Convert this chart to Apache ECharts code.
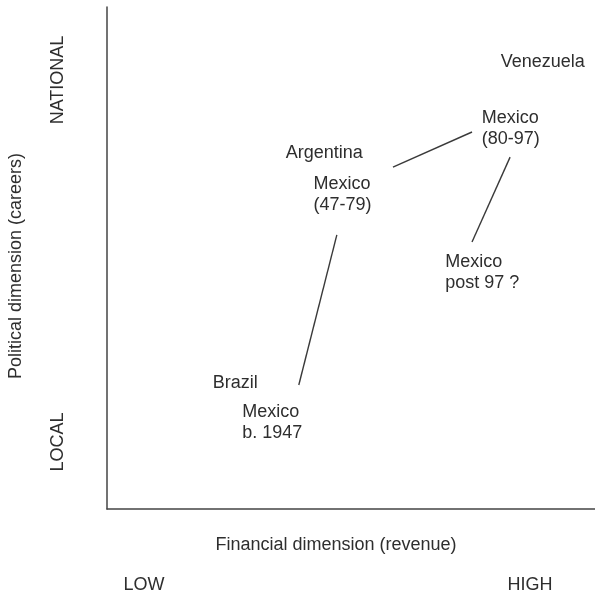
<!DOCTYPE html>
<html>
<head>
    <meta charset="utf-8">
    <title>Political and financial dimension</title>
    <script src="https://cdn.jsdelivr.net/npm/echarts@6/dist/echarts.min.js"></script>
    <style>
        html, body {margin: 0; padding: 0; background: #fff;}
        #chart {width: 595px; height: 596px;}
    </style>
</head>
<body>
<div id="chart"></div>
<script>
    // cases placed on the two dimensions (0 = low/local, 100 = high/national)
    var caseNames = ['Venezuela', 'Mexico\n(80-97)', 'Argentina', 'Mexico\n(47-79)', 'Mexico\npost 97 ?', 'Brazil', 'Mexico\nb. 1947'];
    var caseX = [89.3, 76.8, 44.5, 42.3, 69.3, 26.3, 27.7];
    var caseY = [89.0, 75.7, 70.9, 62.7, 47.1, 25.1, 17.2];
    var caseAlign = ['center', 'left', 'center', 'left', 'left', 'center', 'left'];

    // connector segments between the Mexico periods
    var segments = [
        [[58.6, 68.1], [74.8, 75.1]],
        [[82.6, 70.1], [74.8, 53.2]],
        [[47.1, 54.6], [39.3, 24.7]]
    ];

    var xAxisTitle = 'Financial dimension (revenue)';
    var yAxisTitle = 'Political dimension (careers)';
    var xEnds = ['LOW', 'HIGH'];
    var yEnds = ['LOCAL', 'NATIONAL'];

    var font = '"Liberation Sans", Arial, sans-serif';
    var ink = '#2e2e2e';

    var chart = echarts.init(document.getElementById('chart'));

    var series = [];
    segments.forEach(function (seg) {
        series.push({
            type: 'line',
            data: seg,
            symbol: 'none',
            silent: true,
            lineStyle: {color: '#3a3a3a', width: 1.4}
        });
    });
    series.push({
        type: 'scatter',
        symbolSize: 0,
        silent: true,
        itemStyle: {opacity: 1},
        data: caseNames.map(function (n, i) {
            return {
                value: [caseX[i], caseY[i]],
                label: {align: caseAlign[i]}
            };
        }),
        label: {
            show: true,
            position: 'inside',
            formatter: function (p) {
                return caseNames[p.dataIndex];
            },
            color: ink,
            opacity: 1,
            fontFamily: font,
            fontSize: 18,
            lineHeight: 21
        }
    });

    function axisText(txt, x, y, rot) {
        return {
            type: 'text', x: x, y: y, rotation: rot || 0,
            style: {text: txt, fill: ink, font: '18px ' + font, textAlign: 'center', textVerticalAlign: 'middle'}
        };
    }

    var option = {
        animation: false,
        grid: {left: 107, top: 7, right: 0, bottom: 87},
        xAxis: {
            type: 'value', min: 0, max: 100,
            axisLine: {show: true, onZero: false, lineStyle: {color: '#444', width: 1.5}},
            axisTick: {show: false}, axisLabel: {show: false}, splitLine: {show: false}
        },
        yAxis: {
            type: 'value', min: 0, max: 100,
            axisLine: {show: true, onZero: false, lineStyle: {color: '#444', width: 1.5}},
            axisTick: {show: false}, axisLabel: {show: false}, splitLine: {show: false}
        },
        graphic: [
            axisText(xAxisTitle, 336, 545),
            axisText(yAxisTitle, 16, 266, Math.PI / 2),
            axisText(xEnds[0], 144, 585),
            axisText(xEnds[1], 530, 585),
            axisText(yEnds[0], 58, 442, Math.PI / 2),
            axisText(yEnds[1], 58, 80, Math.PI / 2)
        ],
        series: series
    };
    chart.setOption(option);
</script>
</body>
</html>
